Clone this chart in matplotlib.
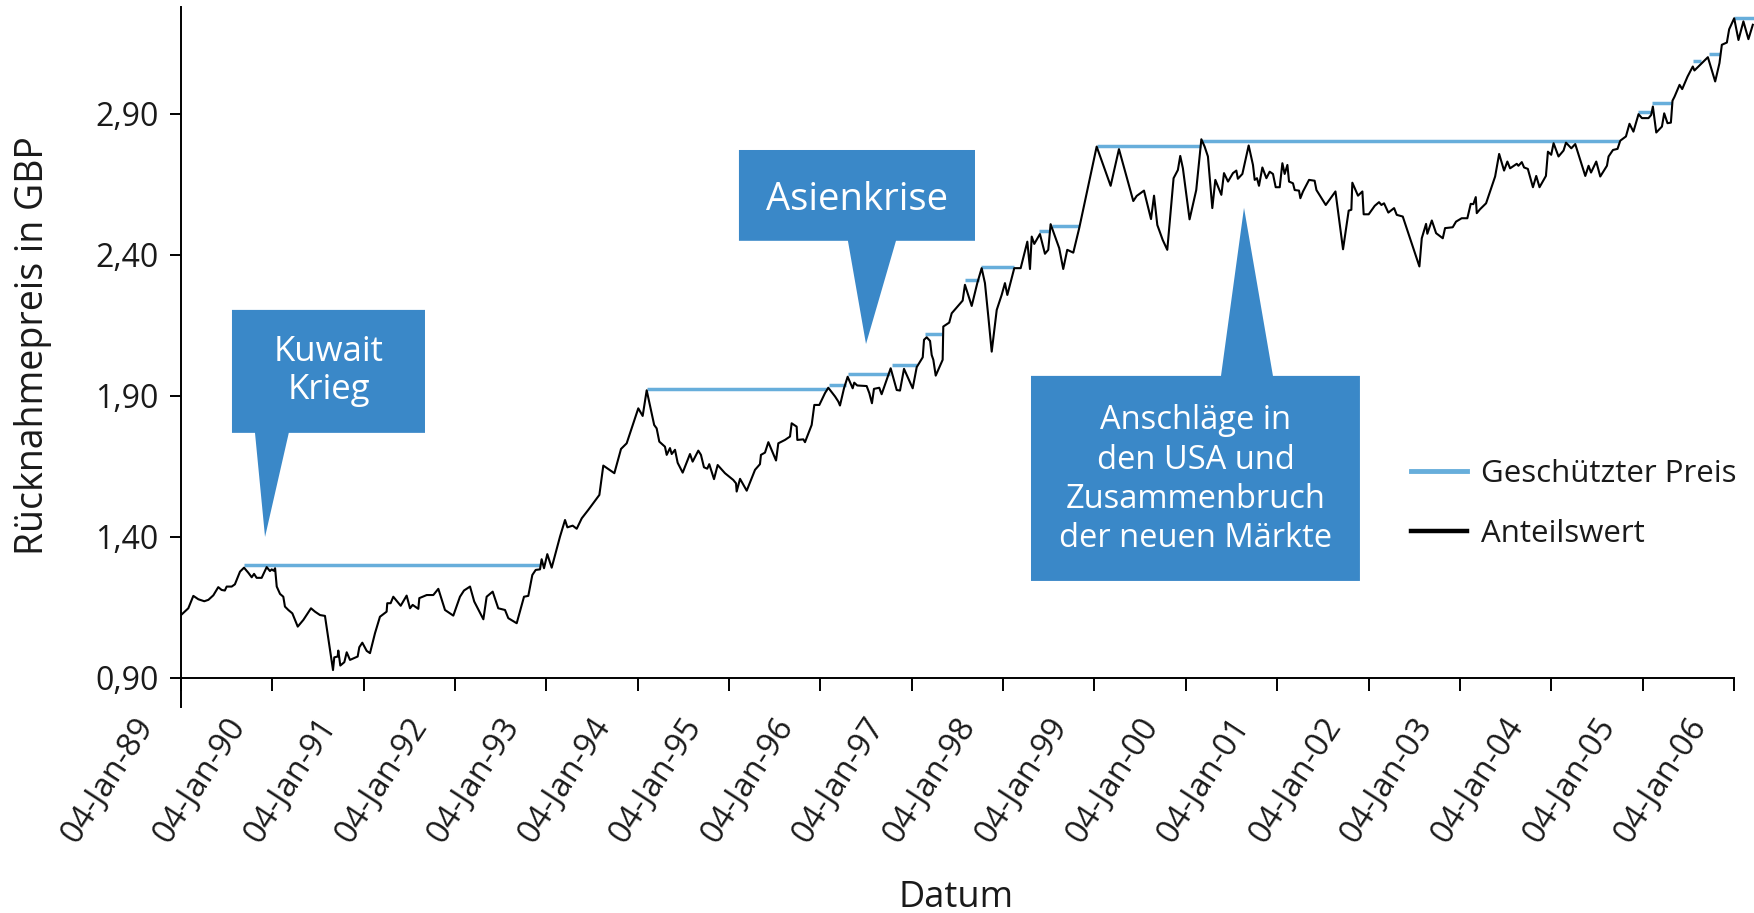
import matplotlib
matplotlib.use("Agg")
import matplotlib.pyplot as plt
from matplotlib.lines import Line2D
from matplotlib.patches import Polygon
from matplotlib.transforms import ScaledTranslation

plt.rcParams["font.family"] = ["Open Sans", "DejaVu Sans"]

# Anteilswert, x as decimal year (1989.01 ~ 04-Jan-89)
nav_year = [
    1989.01, 1989.09, 1989.145, 1989.20, 1989.265, 1989.31, 1989.364, 1989.418, 1989.455, 1989.49,
    1989.51, 1989.565, 1989.60, 1989.656, 1989.70, 1989.747, 1989.784, 1989.81, 1989.838, 1989.893,
    1989.948, 1989.984, 1990.003, 1990.025, 1990.04, 1990.058, 1990.094, 1990.13, 1990.148, 1990.185,
    1990.229, 1990.288, 1990.35, 1990.433, 1990.477, 1990.532, 1990.586, 1990.63, 1990.674, 1990.688,
    1990.725, 1990.732, 1990.754, 1990.798, 1990.824, 1990.86, 1990.944, 1990.962, 1990.995, 1991.043,
    1991.079, 1991.134, 1991.188, 1991.261, 1991.268, 1991.305, 1991.334, 1991.415, 1991.48, 1991.517,
    1991.546, 1991.608, 1991.619, 1991.70, 1991.772, 1991.827, 1991.90, 1991.991, 1992.064, 1992.108,
    1992.174, 1992.22, 1992.32, 1992.356, 1992.422, 1992.483, 1992.557, 1992.593, 1992.685, 1992.765,
    1992.812, 1992.856, 1992.893, 1992.94, 1992.958, 1992.984, 1993.02, 1993.068, 1993.159, 1993.214,
    1993.24, 1993.298, 1993.342, 1993.397, 1993.469, 1993.59, 1993.633, 1993.754, 1993.827, 1993.889,
    1994.016, 1994.064, 1994.108, 1994.19, 1994.217, 1994.246, 1994.308, 1994.327, 1994.363, 1994.382,
    1994.418, 1994.447, 1994.502, 1994.582, 1994.611, 1994.673, 1994.702, 1994.735, 1994.771, 1994.793,
    1994.845, 1994.885, 1994.965, 1995.056, 1995.086, 1995.093, 1995.13, 1995.203, 1995.294, 1995.348,
    1995.359, 1995.403, 1995.44, 1995.524, 1995.549, 1995.622, 1995.677, 1995.695, 1995.75, 1995.757,
    1995.823, 1995.841, 1995.914, 1995.943, 1995.998, 1996.06, 1996.096, 1996.17, 1996.206, 1996.224,
    1996.268, 1996.308, 1996.363, 1996.38, 1996.413, 1996.516, 1996.545, 1996.574, 1996.596, 1996.654,
    1996.68, 1996.779, 1996.845, 1996.881, 1996.925, 1997.02, 1997.064, 1997.13, 1997.144, 1997.173,
    1997.21, 1997.228, 1997.246, 1997.272, 1997.348, 1997.355, 1997.42, 1997.447, 1997.567, 1997.592,
    1997.666, 1997.727, 1997.775, 1997.811, 1997.848, 1997.885, 1997.94, 1997.994, 1998.03, 1998.056,
    1998.132, 1998.202, 1998.275, 1998.304, 1998.323, 1998.351, 1998.413, 1998.468, 1998.504, 1998.53,
    1998.624, 1998.668, 1998.712, 1998.778, 1998.843, 1999.034, 1999.187, 1999.278, 1999.435, 1999.472,
    1999.552, 1999.629, 1999.662, 1999.698, 1999.757, 1999.807, 1999.855, 1999.876, 1999.923, 1999.949,
    1999.978, 2000.051, 2000.124, 2000.18, 2000.216, 2000.252, 2000.30, 2000.333, 2000.399, 2000.428,
    2000.472, 2000.526, 2000.563, 2000.58, 2000.629, 2000.698, 2000.745, 2000.764, 2000.789, 2000.811,
    2000.848, 2000.892, 2000.928, 2000.964, 2000.994, 2001.038, 2001.067, 2001.092, 2001.122, 2001.14,
    2001.183, 2001.202, 2001.249, 2001.264, 2001.293, 2001.359, 2001.42, 2001.44, 2001.542, 2001.648,
    2001.731, 2001.793, 2001.822, 2001.833, 2001.895, 2001.943, 2001.957, 2002.012, 2002.078, 2002.125,
    2002.151, 2002.18, 2002.227, 2002.29, 2002.319, 2002.385, 2002.567, 2002.593, 2002.64, 2002.654,
    2002.703, 2002.75, 2002.823, 2002.848, 2002.932, 2002.968, 2003.03, 2003.092, 2003.129, 2003.158,
    2003.184, 2003.195, 2003.231, 2003.297, 2003.396, 2003.44, 2003.494, 2003.53, 2003.56, 2003.633,
    2003.651, 2003.688, 2003.713, 2003.754, 2003.81, 2003.846, 2003.882, 2003.952, 2003.974, 2004.01,
    2004.036, 2004.09, 2004.145, 2004.172, 2004.23, 2004.273, 2004.383, 2004.419, 2004.446, 2004.503,
    2004.547, 2004.62, 2004.638, 2004.686, 2004.736, 2004.766, 2004.828, 2004.867, 2004.91, 2004.966,
    2005.003, 2005.075, 2005.104, 2005.123, 2005.16, 2005.222, 2005.247, 2005.283, 2005.32, 2005.338,
    2005.36, 2005.415, 2005.444, 2005.502, 2005.56, 2005.578, 2005.725, 2005.805, 2005.852, 2005.878,
    2005.933, 2005.958, 2006.013, 2006.06, 2006.114, 2006.169, 2006.217,
]
nav_value = [
    1.123, 1.147, 1.191, 1.179, 1.172, 1.177, 1.193, 1.222, 1.212, 1.210,
    1.224, 1.224, 1.232, 1.277, 1.291, 1.273, 1.257, 1.269, 1.255, 1.255,
    1.293, 1.279, 1.285, 1.280, 1.289, 1.224, 1.198, 1.188, 1.153, 1.141,
    1.129, 1.082, 1.106, 1.147, 1.135, 1.123, 1.120, 1.023, 0.928, 0.973,
    0.976, 0.997, 0.944, 0.956, 0.991, 0.964, 0.976, 1.009, 1.025, 0.996,
    0.988, 1.059, 1.117, 1.135, 1.165, 1.165, 1.188, 1.156, 1.192, 1.147,
    1.159, 1.145, 1.183, 1.194, 1.194, 1.216, 1.141, 1.121, 1.188, 1.210,
    1.224, 1.171, 1.108, 1.188, 1.206, 1.147, 1.141, 1.112, 1.094, 1.188,
    1.191, 1.265, 1.283, 1.285, 1.321, 1.289, 1.339, 1.291, 1.401, 1.460,
    1.434, 1.440, 1.429, 1.466, 1.496, 1.549, 1.653, 1.626, 1.712, 1.732,
    1.856, 1.829, 1.920, 1.797, 1.785, 1.738, 1.720, 1.691, 1.715, 1.694,
    1.709, 1.663, 1.628, 1.694, 1.667, 1.706, 1.691, 1.647, 1.642, 1.658,
    1.605, 1.655, 1.626, 1.602, 1.590, 1.561, 1.606, 1.564, 1.638, 1.658,
    1.691, 1.699, 1.736, 1.671, 1.732, 1.744, 1.756, 1.803, 1.791, 1.744,
    1.746, 1.736, 1.797, 1.868, 1.868, 1.910, 1.929, 1.898, 1.880, 1.866,
    1.927, 1.968, 1.927, 1.947, 1.937, 1.935, 1.910, 1.874, 1.925, 1.929,
    1.906, 1.998, 1.921, 1.919, 1.996, 1.927, 2.002, 2.037, 2.099, 2.108,
    2.095, 2.045, 2.028, 1.972, 2.028, 2.146, 2.160, 2.193, 2.238, 2.294,
    2.219, 2.300, 2.353, 2.300, 2.181, 2.057, 2.205, 2.258, 2.300, 2.258,
    2.353, 2.353, 2.447, 2.350, 2.465, 2.439, 2.474, 2.404, 2.418, 2.509,
    2.424, 2.350, 2.418, 2.408, 2.495, 2.784, 2.645, 2.775, 2.591, 2.609,
    2.628, 2.527, 2.610, 2.506, 2.453, 2.418, 2.595, 2.672, 2.701, 2.751,
    2.707, 2.526, 2.630, 2.810, 2.784, 2.749, 2.566, 2.666, 2.613, 2.690,
    2.660, 2.690, 2.699, 2.670, 2.687, 2.788, 2.719, 2.666, 2.672, 2.645,
    2.710, 2.672, 2.695, 2.687, 2.640, 2.640, 2.725, 2.687, 2.719, 2.660,
    2.654, 2.630, 2.628, 2.601, 2.625, 2.666, 2.663, 2.630, 2.577, 2.625,
    2.420, 2.557, 2.560, 2.656, 2.610, 2.625, 2.544, 2.544, 2.574, 2.587,
    2.577, 2.583, 2.550, 2.566, 2.542, 2.536, 2.359, 2.459, 2.510, 2.475,
    2.522, 2.477, 2.459, 2.495, 2.498, 2.518, 2.530, 2.530, 2.581, 2.580,
    2.605, 2.548, 2.562, 2.583, 2.678, 2.758, 2.699, 2.731, 2.707, 2.723,
    2.716, 2.729, 2.710, 2.705, 2.640, 2.680, 2.640, 2.680, 2.766, 2.755,
    2.796, 2.749, 2.770, 2.798, 2.778, 2.793, 2.680, 2.716, 2.692, 2.731,
    2.678, 2.716, 2.749, 2.772, 2.776, 2.805, 2.820, 2.865, 2.837, 2.899,
    2.885, 2.885, 2.896, 2.926, 2.834, 2.855, 2.902, 2.867, 2.869, 2.947,
    2.961, 3.003, 2.988, 3.032, 3.068, 3.054, 3.101, 3.015, 3.080, 3.145,
    3.153, 3.200, 3.239, 3.162, 3.228, 3.165, 3.216,
]

# Geschützter Preis: locked-in levels with start/end
prot_start = [1989.70, 1994.108, 1996.107, 1996.308, 1996.79, 1997.16, 1997.592, 1997.768, 1998.406,
              1998.541, 1999.034, 2000.18, 2004.956, 2005.116, 2005.562, 2005.734, 2006.013]
prot_end = [1992.94, 1996.085, 1996.29, 1996.77, 1997.064, 1997.345, 1997.75, 1998.132, 1998.523,
            1998.843, 2000.18, 2004.75, 2005.102, 2005.328, 2005.654, 2005.855, 2006.23]
prot_level = [1.30, 1.925, 1.938, 1.977, 2.009, 2.120, 2.310, 2.357, 2.483,
              2.503, 2.785, 2.804, 2.905, 2.939, 3.086, 3.112, 3.239]

x_tick_years = list(range(1989, 2007))
x_tick_labels = ["04-Jan-89", "04-Jan-90", "04-Jan-91", "04-Jan-92", "04-Jan-93", "04-Jan-94",
                 "04-Jan-95", "04-Jan-96", "04-Jan-97", "04-Jan-98", "04-Jan-99", "04-Jan-00",
                 "04-Jan-01", "04-Jan-02", "04-Jan-03", "04-Jan-04", "04-Jan-05", "04-Jan-06"]
y_ticks = [0.90, 1.40, 1.90, 2.40, 2.90]
y_tick_labels = ["0,90", "1,40", "1,90", "2,40", "2,90"]

# callouts: text, box (x0, x1, y0, y1), pointer base (xl, xr), tip (x, y), font size, line spacing, text y shift
callouts = [
    ("Kuwait\nKrieg", (1989.568, 1991.681, 1.769, 2.205), (1989.82, 1990.19), (1989.93, 1.40),
     25, 1.15, 0.0),
    ("Asienkrise", (1995.118, 1997.702, 2.450, 2.772), (1996.311, 1996.837), (1996.509, 2.084),
     27.5, 1.0, -0.018),
    ("Anschläge in\nden USA und\nZusammenbruch\nder neuen Märkte",
     (1998.315, 2001.916, 1.244, 1.971), (2000.395, 2000.964), (2000.647, 2.567),
     23.5, 1.25, -0.005),
]

PROT_COLOR = "#67AEDB"
BOX_COLOR = "#3A88C8"
TEXT_COLOR = "#1a1a1a"

fig = plt.figure(figsize=(17.54, 9.13), dpi=100)
ax = fig.add_axes([181 / 1754, 206 / 913, 1573 / 1754, 700 / 913])

ax.hlines(prot_level, prot_start, prot_end, colors=PROT_COLOR, linewidth=2.5, zorder=2)
ax.plot(nav_year, nav_value, color="black", linewidth=1.5, zorder=3)

ax.set_xlim(1989.01, 2006.23)
ax.set_ylim(0.797, 3.279)

for spine in ("top", "right"):
    ax.spines[spine].set_visible(False)
ax.spines["bottom"].set_position(("data", 0.90))
ax.spines["bottom"].set_bounds(1989.01, 2006.01)
for spine in ("left", "bottom"):
    ax.spines[spine].set_linewidth(1.4)

ax.set_yticks(y_ticks)
ax.set_yticklabels(y_tick_labels, fontsize=23, color=TEXT_COLOR)
ax.tick_params(axis="y", length=8, width=1.4, pad=8)

ax.set_xticks([y + 0.01 for y in x_tick_years])
ax.set_xticklabels(x_tick_labels, fontsize=23.5, color=TEXT_COLOR, rotation=57,
                   ha="right", va="center", rotation_mode="anchor")
ax.tick_params(axis="x", length=9.5, width=1.4, pad=0)
shift = ScaledTranslation(-0.34, -0.30, fig.dpi_scale_trans)
for label in ax.get_xticklabels():
    label.set_transform(label.get_transform() + shift)

for text, (x0, x1, y0, y1), (bl, br), (tx, ty), size, spacing, dy in callouts:
    if ty < y0:
        verts = [(x0, y1), (x1, y1), (x1, y0), (br, y0), (tx, ty), (bl, y0), (x0, y0)]
    else:
        verts = [(x0, y0), (x1, y0), (x1, y1), (br, y1), (tx, ty), (bl, y1), (x0, y1)]
    ax.add_patch(Polygon(verts, closed=True, facecolor=BOX_COLOR, edgecolor="none", zorder=4))
    ax.text((x0 + x1) / 2, (y0 + y1) / 2 + dy, text, color="white", fontsize=size,
            ha="center", va="center", linespacing=spacing, zorder=5)

handles = [
    Line2D([], [], color=PROT_COLOR, linewidth=3.5),
    Line2D([], [], color="black", linewidth=3.2),
]
fig.legend(handles, ["Geschützter Preis", "Anteilswert"], loc="upper left",
           bbox_to_anchor=(1411 / 1754, 1 - 459 / 913), frameon=False, fontsize=22.5,
           handlelength=1.8, handletextpad=0.45, labelspacing=0.95, borderpad=0, borderaxespad=0,
           labelcolor=TEXT_COLOR)

fig.text(33 / 1754, 1 - 346 / 913, "Rücknahmepreis in GBP", rotation=90, fontsize=27,
         ha="center", va="center", color=TEXT_COLOR)
fig.text(956 / 1754, 1 - 898 / 913, "Datum", fontsize=26, ha="center", va="center", color=TEXT_COLOR)

fig.savefig("out.png", dpi=100)
